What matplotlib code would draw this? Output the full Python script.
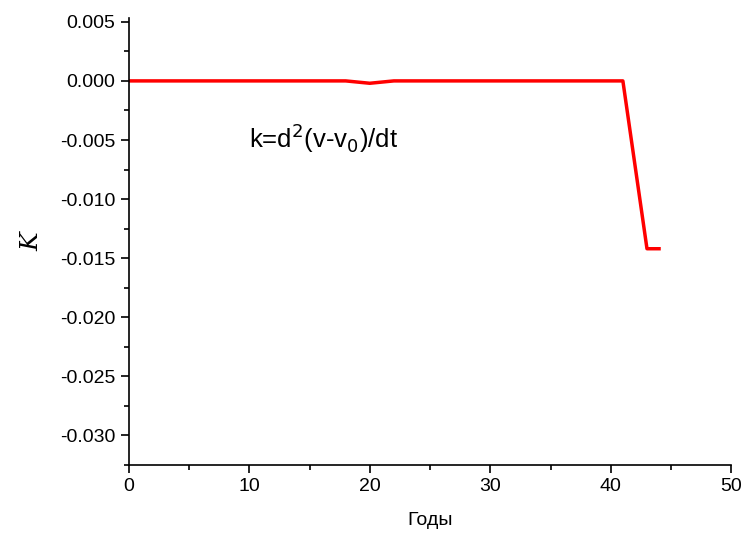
import matplotlib.pyplot as plt
from matplotlib.ticker import MultipleLocator

plt.rcParams['font.family'] = ['Liberation Sans', 'DejaVu Sans']

years = [0, 18, 19, 20, 21, 22, 41, 42, 43, 44]
k_vals = [0.0, 0.0, -0.0001, -0.0002, -0.0001, 0.0, 0.0, -0.0071, -0.0142, -0.0142]

fig = plt.figure(figsize=(7.44, 5.37), dpi=100)
ax = fig.add_axes([0.173, 0.134, 0.81, 0.832])

ax.plot(years, k_vals, color='red', linewidth=2.5)

ax.set_xlim(0, 50)
ax.set_ylim(-0.0325, 0.0053)
ax.xaxis.set_major_locator(MultipleLocator(10))
ax.xaxis.set_minor_locator(MultipleLocator(5))
ax.yaxis.set_major_locator(MultipleLocator(0.005))
ax.yaxis.set_minor_locator(MultipleLocator(0.0025))
ax.yaxis.set_major_formatter(plt.FuncFormatter(lambda v, p: f"{v:.3f}"))

for s in ['top', 'right']:
    ax.spines[s].set_visible(False)
for s in ['left', 'bottom']:
    ax.spines[s].set_linewidth(1.2)
ax.tick_params(which='major', length=6, width=1.2, labelsize=14, direction='out')
ax.tick_params(which='minor', length=3.5, width=1.2, direction='out')

ax.set_xlabel("Годы", fontsize=14, labelpad=12)
ax.set_ylabel("K", fontsize=18, family='DejaVu Serif', style='italic', labelpad=12)

ax.text(10.0, -0.0057, r"k=d$^{2}$(v-v$_{0}$)/dt", fontsize=18.5, va='baseline')

plt.savefig("out.png", dpi=100)
